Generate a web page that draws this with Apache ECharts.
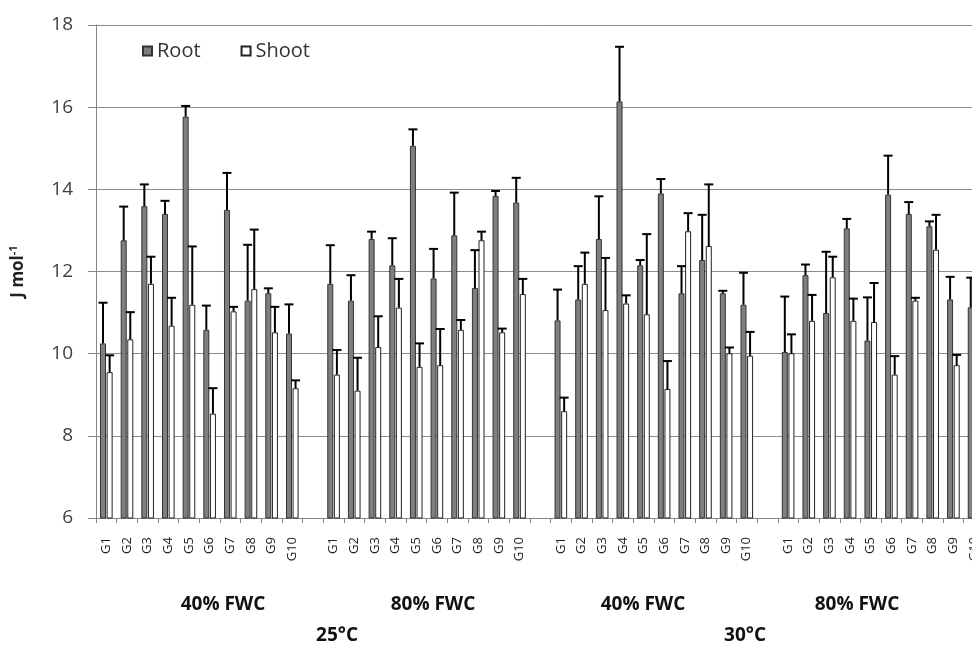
<!DOCTYPE html>
<html>
<head>
<meta charset="utf-8">
<script src="https://cdn.jsdelivr.net/npm/echarts@6/dist/echarts.min.js"></script>
<style>
html,body{margin:0;padding:0;overflow:hidden;background:#fff;width:972px;height:646px;}
#c{width:990px;height:646px;}
</style>
</head>
<body>
<div id="c"></div>
<script>
// Categories: four groups of G1..G10 separated by an empty slot
const categories = [
  'G1','G2','G3','G4','G5','G6','G7','G8','G9','G10','',
  'G1','G2','G3','G4','G5','G6','G7','G8','G9','G10','',
  'G1','G2','G3','G4','G5','G6','G7','G8','G9','G10','',
  'G1','G2','G3','G4','G5','G6','G7','G8','G9','G10'
];
const rootMean = [
  10.25,12.76,13.59,13.40,15.77,10.58,13.50,11.29,11.47,10.49,null,
  11.70,11.29,12.79,12.15,15.06,11.83,12.88,11.60,13.84,13.68,null,
  10.81,11.32,12.79,16.14,12.15,13.90,11.47,12.28,11.47,11.19,null,
  10.04,11.91,10.99,13.05,10.32,13.87,13.40,13.10,11.32,11.13
];
const rootErr = [
  0.99,0.82,0.53,0.32,0.26,0.59,0.90,1.36,0.12,0.71,null,
  0.94,0.62,0.18,0.66,0.40,0.72,1.04,0.92,0.12,0.60,null,
  0.75,0.81,1.04,1.33,0.13,0.35,0.66,1.10,0.06,0.78,null,
  1.35,0.26,1.49,0.23,1.05,0.95,0.29,0.12,0.55,0.72
];
const shootMean = [
  9.55,10.35,11.70,10.68,11.19,8.54,11.03,11.57,10.52,9.16,null,
  9.49,9.10,10.16,11.12,9.68,9.72,10.58,12.76,10.52,11.45,null,
  8.60,11.70,11.06,11.22,10.96,9.14,12.98,12.62,10.01,9.95,null,
  10.01,10.80,11.86,10.80,10.77,9.49,11.29,12.53,9.72,10.20
];
const shootErr = [
  0.41,0.66,0.66,0.68,1.42,0.62,0.11,1.45,0.62,0.19,null,
  0.60,0.80,0.75,0.70,0.57,0.88,0.24,0.21,0.09,0.37,null,
  0.33,0.76,1.27,0.20,1.95,0.68,0.44,1.50,0.14,0.58,null,
  0.46,0.63,0.50,0.54,0.95,0.45,0.07,0.85,0.25,0.20
];
const yTicks = {min: 6, max: 18, interval: 2};
const groupLabels = ['40% FWC','80% FWC','40% FWC','80% FWC'];
const tempLabels = ['25°C','30°C'];

const FONT = '"Open Sans", "Noto Sans", sans-serif';
const BW = 6, OFF = 3.3;

function errSeries(name, mean, err, offset) {
  const data = [];
  mean.forEach((m, i) => { if (m != null) data.push([i, m, err[i]]); });
  return {
    type: 'custom', name: name + ' err', z: 5, silent: true,
    encode: {x: 0, y: 1},
    data: data,
    renderItem: function (params, api) {
      const i = api.value(0), m = api.value(1), e = api.value(2);
      const b = api.coord([i, m]);
      const t = api.coord([i, m + e]);
      const x = b[0] + offset;
      const st = {stroke: '#000', lineWidth: 2};
      return {type: 'group', children: [
        {type: 'line', shape: {x1: x, y1: b[1], x2: x, y2: t[1]}, style: st},
        {type: 'line', shape: {x1: x - 4.5, y1: t[1], x2: x + 4.5, y2: t[1]}, style: st}
      ]};
    }
  };
}

const chart = echarts.init(document.getElementById('c'));
const option = {
  animation: false,
  textStyle: {fontFamily: FONT},
  grid: {left: 96, right: 990 - 96 - 43 * 20.66, top: 25, bottom: 128},
  legend: {
    left: 137, top: 36, icon: 'rect', itemWidth: 9, itemHeight: 9, itemGap: 40,
    data: ['Root', 'Shoot'],
    textStyle: {fontSize: 20, color: '#333', fontFamily: FONT}
  },
  xAxis: {
    type: 'category', data: categories,
    axisLine: {lineStyle: {color: '#868686'}},
    axisTick: {show: true, interval: 0, length: 5, lineStyle: {color: '#868686'}},
    axisLabel: {interval: 0, rotate: 90, fontSize: 13, color: '#222', margin: 19, fontFamily: FONT},
    splitLine: {show: false}
  },
  yAxis: {
    type: 'value', min: yTicks.min, max: yTicks.max, interval: yTicks.interval,
    axisLine: {show: true, lineStyle: {color: '#868686'}},
    axisTick: {show: true, length: 8, lineStyle: {color: '#868686'}},
    axisLabel: {fontSize: 19, color: '#404040', margin: 23, fontFamily: FONT},
    splitLine: {lineStyle: {color: '#8c8c8c', width: 1}},
    name: '{a|J mol}{b|-1}', nameLocation: 'middle', nameGap: 68, nameRotate: 90,
    nameTextStyle: {
      rich: {
        a: {fontSize: 17, fontWeight: 'bold', color: '#222', fontFamily: FONT},
        b: {fontSize: 11, fontWeight: 'bold', color: '#222', fontFamily: FONT, padding: [0, 0, 9, 0]}
      }
    }
  },
  series: [
    {name: 'Root', type: 'bar', data: rootMean, barWidth: BW, barGap: '10%',
     itemStyle: {color: '#7f7f7f', borderColor: '#333', borderWidth: 1}},
    {name: 'Shoot', type: 'bar', data: shootMean, barWidth: BW,
     itemStyle: {color: '#ffffff', borderColor: '#222', borderWidth: 1}},
    errSeries('Root', rootMean, rootErr, -OFF),
    errSeries('Shoot', shootMean, shootErr, OFF)
  ]
};
chart.setOption(option);

const gx = [223, 433, 643, 857];
const tx = [337, 745];
const gfx = [];
groupLabels.forEach((t, k) => gfx.push({type: 'text', x: gx[k], y: 605, style: {text: t, font: 'bold 19px ' + FONT, fill: '#111', textAlign: 'center', textVerticalAlign: 'middle'}}));
tempLabels.forEach((t, k) => gfx.push({type: 'text', x: tx[k], y: 636, style: {text: t, font: 'bold 19px ' + FONT, fill: '#111', textAlign: 'center', textVerticalAlign: 'middle'}}));
chart.setOption({graphic: gfx});
</script>
</body>
</html>
